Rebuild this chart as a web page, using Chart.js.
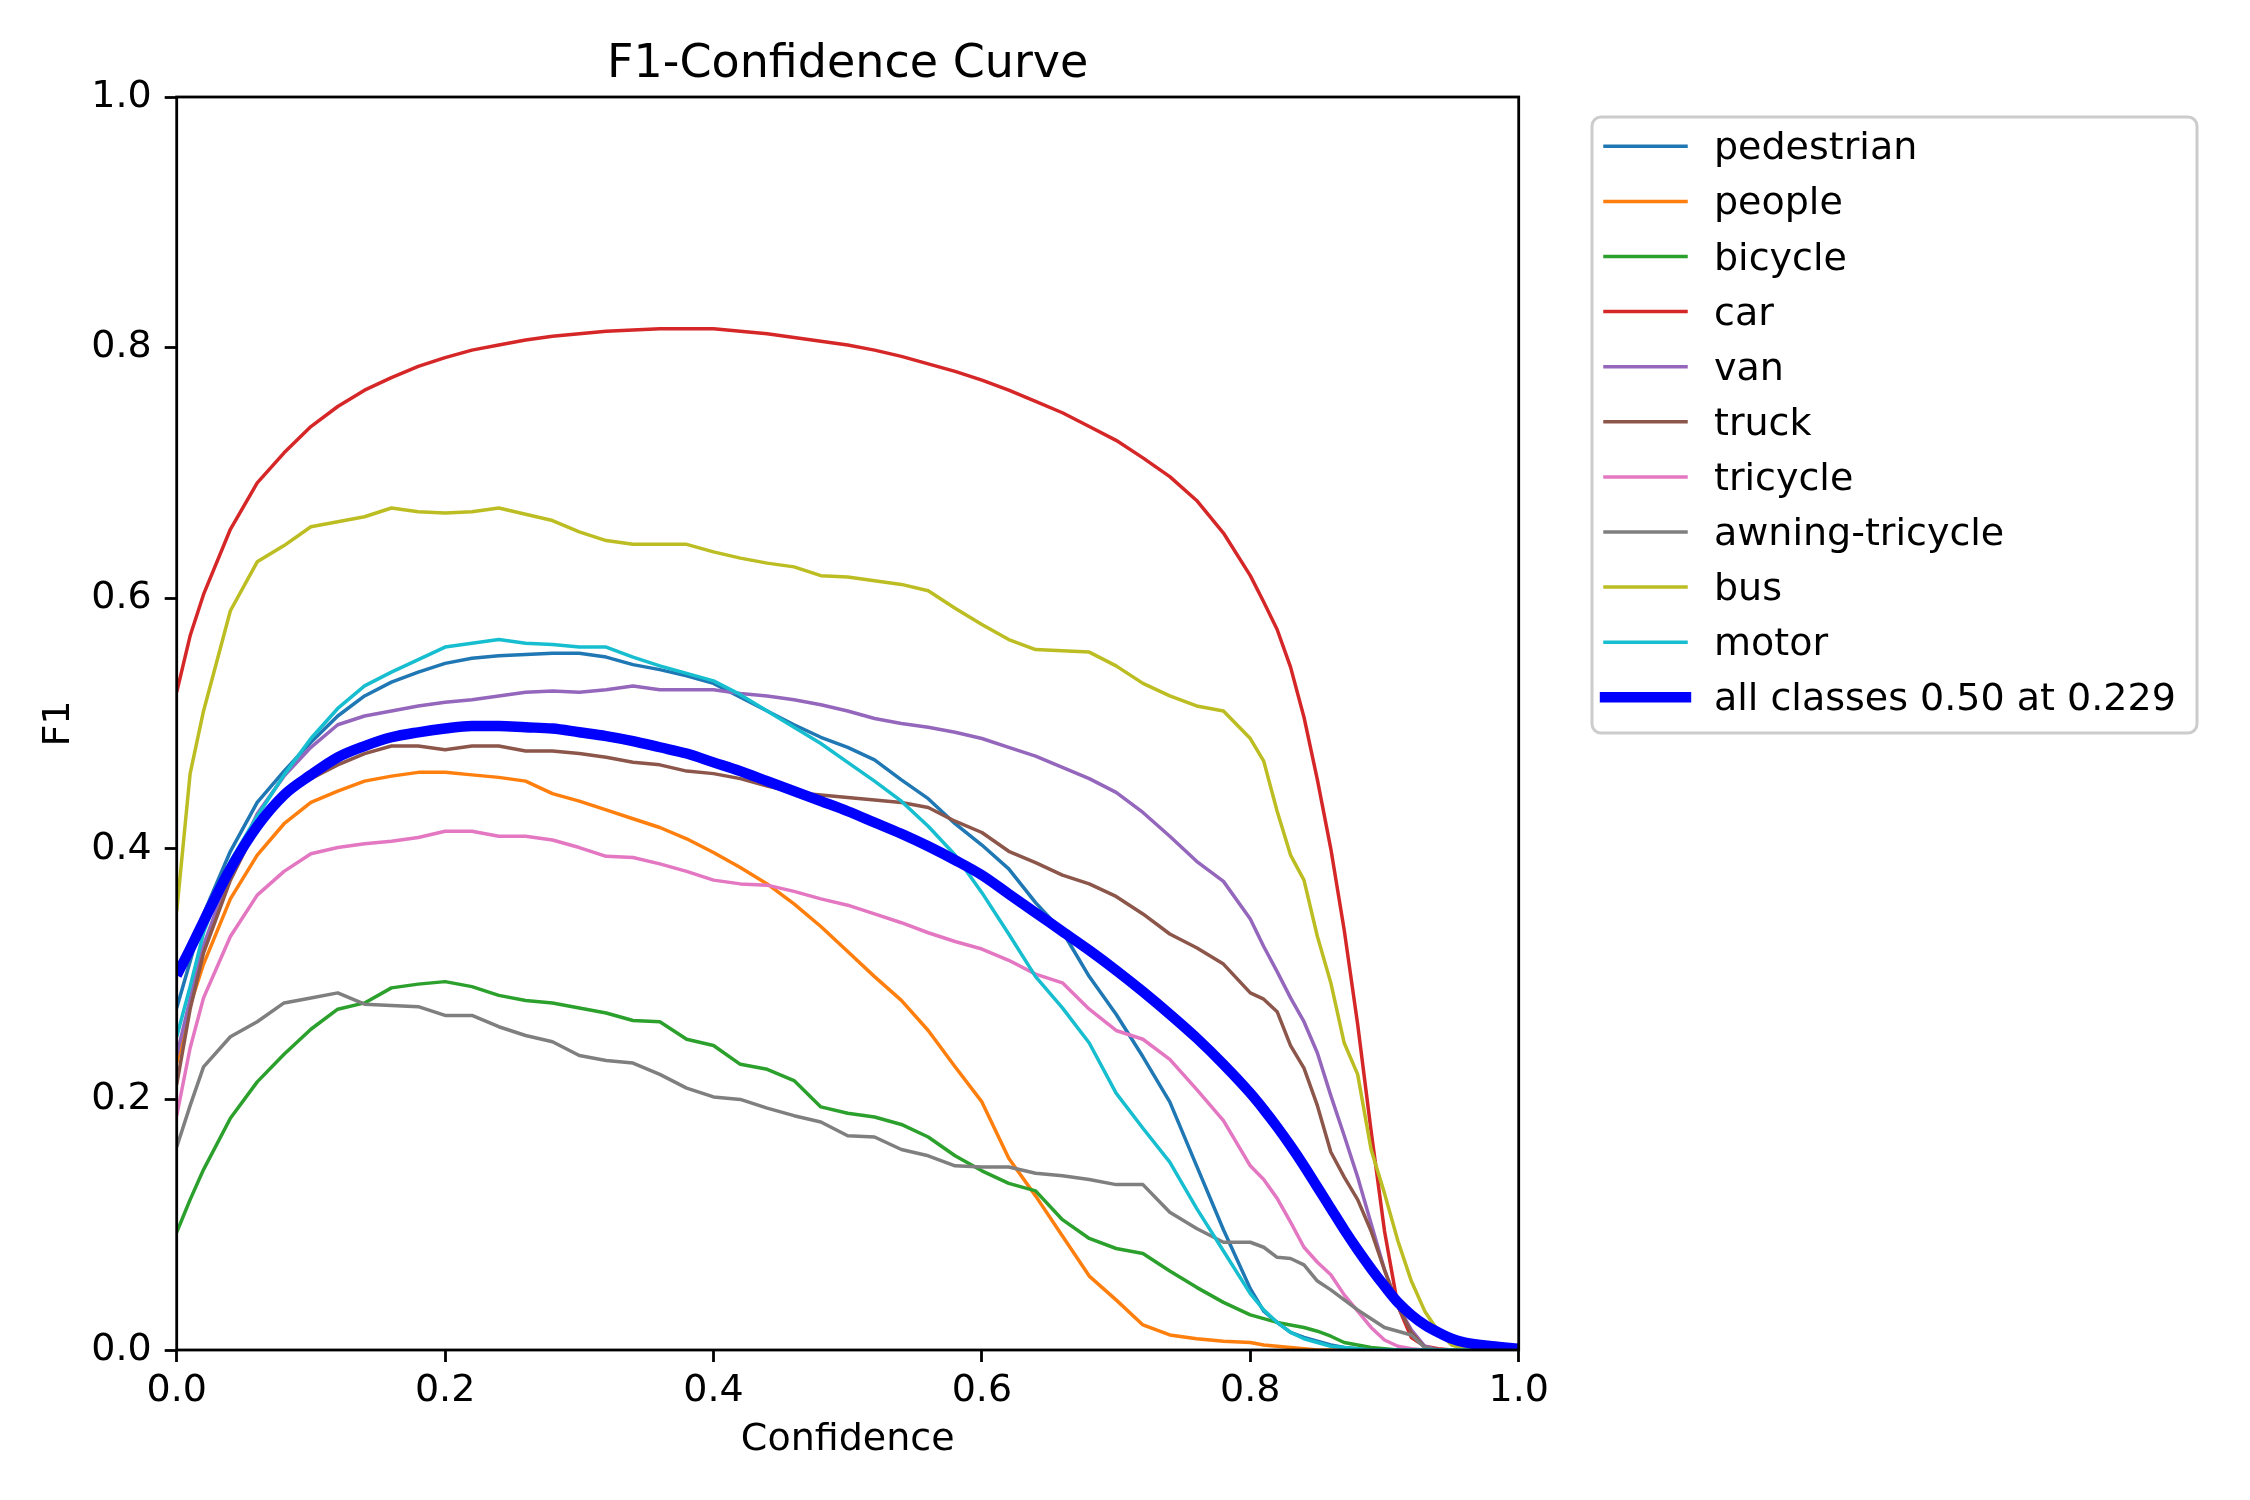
<!DOCTYPE html>
<html>
<head>
<meta charset="utf-8">
<title>F1-Confidence Curve</title>
<script src="https://cdn.jsdelivr.net/npm/chart.js@4.4.1/dist/chart.umd.min.js"></script>
<style>
    html, body { margin: 0; padding: 0; background: #fff; }
    #f1-chart { display: block; }
</style>
</head>
<body>
<canvas id="f1-chart" width="2250" height="1500"></canvas>
<script>
// confidence thresholds (x) shared by every curve
const conf = [0, 0.01, 0.02, 0.04, 0.06, 0.08, 0.10, 0.12, 0.14, 0.16, 0.18, 0.20, 0.22, 0.24, 0.26, 0.28, 0.30,
    0.32, 0.34, 0.36, 0.38, 0.40, 0.42, 0.44, 0.46, 0.48, 0.50, 0.52, 0.54, 0.56, 0.58, 0.60, 0.62, 0.64, 0.66,
    0.68, 0.70, 0.72, 0.74, 0.76, 0.78, 0.80, 0.81, 0.82, 0.83, 0.84, 0.85, 0.86, 0.87, 0.88, 0.89, 0.90, 0.91,
    0.92, 0.93, 0.94, 0.95, 0.96, 0.98, 1.00]

const pedestrian = [0.273, 0.31, 0.348, 0.398, 0.437, 0.462, 0.485, 0.506, 0.522, 0.533, 0.541, 0.548, 0.552, 0.554, 0.555, 0.556, 0.556,
    0.553, 0.547, 0.543, 0.538, 0.532, 0.521, 0.51, 0.499, 0.489, 0.481, 0.471, 0.455, 0.44, 0.42, 0.403, 0.384, 0.357, 0.334,
    0.298, 0.268, 0.234, 0.198, 0.147, 0.096, 0.049, 0.031, 0.022, 0.014, 0.01, 0.007, 0.004, 0.002, 0.001, 0,
    0, 0, 0, 0, 0, 0, 0, 0, 0]
const people = [0.229, 0.275, 0.308, 0.36, 0.395, 0.42, 0.437, 0.446, 0.454, 0.458, 0.461, 0.461, 0.459, 0.457, 0.454, 0.444, 0.438,
    0.431, 0.424, 0.417, 0.408, 0.397, 0.385, 0.372, 0.356, 0.338, 0.318, 0.298, 0.279, 0.255, 0.226, 0.198, 0.153, 0.123, 0.091,
    0.059, 0.04, 0.02, 0.012, 0.009, 0.007, 0.006, 0.004, 0.003, 0.002, 0.001, 0, 0, 0, 0, 0,
    0, 0, 0, 0, 0, 0, 0, 0, 0]
const bicycle = [0.094, 0.12, 0.144, 0.185, 0.214, 0.236, 0.256, 0.272, 0.277, 0.289, 0.292, 0.294, 0.29, 0.283, 0.279, 0.277, 0.273,
    0.269, 0.263, 0.262, 0.248, 0.243, 0.228, 0.224, 0.215, 0.194, 0.189, 0.186, 0.18, 0.17, 0.155, 0.143, 0.133, 0.127, 0.104,
    0.089, 0.081, 0.077, 0.063, 0.05, 0.038, 0.028, 0.025, 0.022, 0.02, 0.018, 0.015, 0.011, 0.006, 0.004, 0.002,
    0.001, 0, 0, 0, 0, 0, 0, 0, 0]
const car = [0.525, 0.57, 0.603, 0.655, 0.692, 0.716, 0.737, 0.753, 0.766, 0.776, 0.785, 0.792, 0.798, 0.802, 0.806, 0.809, 0.811,
    0.813, 0.814, 0.815, 0.815, 0.815, 0.813, 0.811, 0.808, 0.805, 0.802, 0.798, 0.793, 0.787, 0.781, 0.774, 0.766, 0.757, 0.748,
    0.737, 0.726, 0.712, 0.697, 0.678, 0.652, 0.618, 0.597, 0.575, 0.545, 0.505, 0.455, 0.40, 0.335, 0.26, 0.175,
    0.095, 0.035, 0.01, 0.003, 0.001, 0, 0, 0, 0]
const van = [0.235, 0.28, 0.323, 0.382, 0.428, 0.458, 0.481, 0.499, 0.506, 0.51, 0.514, 0.517, 0.519, 0.522, 0.525, 0.526, 0.525,
    0.527, 0.53, 0.527, 0.527, 0.527, 0.524, 0.522, 0.519, 0.515, 0.51, 0.504, 0.5, 0.497, 0.493, 0.488, 0.481, 0.474, 0.465,
    0.456, 0.445, 0.429, 0.41, 0.39, 0.374, 0.344, 0.322, 0.302, 0.281, 0.262, 0.237, 0.203, 0.171, 0.138, 0.101,
    0.064, 0.035, 0.016, 0.003, 0, 0, 0, 0, 0]
const truck = [0.212, 0.272, 0.317, 0.375, 0.418, 0.443, 0.456, 0.467, 0.476, 0.482, 0.482, 0.479, 0.482, 0.482, 0.478, 0.478, 0.476,
    0.473, 0.469, 0.467, 0.462, 0.46, 0.456, 0.45, 0.445, 0.443, 0.441, 0.439, 0.437, 0.433, 0.422, 0.413, 0.398, 0.389, 0.379,
    0.372, 0.362, 0.348, 0.332, 0.321, 0.308, 0.285, 0.28, 0.27, 0.243, 0.225, 0.195, 0.158, 0.138, 0.12, 0.095,
    0.064, 0.035, 0.014, 0.002, 0, 0, 0, 0, 0]
const tricycle = [0.187, 0.241, 0.281, 0.33, 0.363, 0.382, 0.396, 0.401, 0.404, 0.406, 0.409, 0.414, 0.414, 0.41, 0.41, 0.407, 0.401,
    0.394, 0.393, 0.388, 0.382, 0.375, 0.372, 0.371, 0.366, 0.36, 0.355, 0.348, 0.341, 0.333, 0.326, 0.32, 0.311, 0.3, 0.293,
    0.272, 0.255, 0.248, 0.232, 0.208, 0.183, 0.147, 0.136, 0.121, 0.102, 0.082, 0.07, 0.06, 0.044, 0.031, 0.018,
    0.008, 0.003, 0.001, 0, 0, 0, 0, 0, 0]
const awningTricycle = [0.162, 0.195, 0.226, 0.25, 0.262, 0.277, 0.281, 0.285, 0.276, 0.275, 0.274, 0.267, 0.267, 0.258, 0.251, 0.246, 0.235,
    0.231, 0.229, 0.22, 0.209, 0.202, 0.2, 0.193, 0.187, 0.182, 0.171, 0.17, 0.16, 0.155, 0.147, 0.146, 0.146, 0.141, 0.139,
    0.136, 0.132, 0.132, 0.11, 0.097, 0.086, 0.086, 0.082, 0.074, 0.073, 0.068, 0.055, 0.048, 0.04, 0.032, 0.025,
    0.018, 0.015, 0.012, 0.002, 0, 0, 0, 0, 0]
const bus = [0.35, 0.46, 0.51, 0.59, 0.629, 0.642, 0.657, 0.661, 0.665, 0.672, 0.669, 0.668, 0.669, 0.672, 0.667, 0.662, 0.653,
    0.646, 0.643, 0.643, 0.643, 0.637, 0.632, 0.628, 0.625, 0.618, 0.617, 0.614, 0.611, 0.606, 0.592, 0.579, 0.567, 0.559, 0.558,
    0.557, 0.546, 0.532, 0.522, 0.514, 0.51, 0.488, 0.47, 0.43, 0.395, 0.375, 0.33, 0.293, 0.245, 0.22, 0.16,
    0.125, 0.087, 0.055, 0.031, 0.015, 0.004, 0.001, 0, 0]
const motor = [0.25, 0.29, 0.333, 0.39, 0.426, 0.459, 0.488, 0.512, 0.53, 0.541, 0.551, 0.561, 0.564, 0.567, 0.564, 0.563, 0.561,
    0.561, 0.553, 0.546, 0.54, 0.534, 0.523, 0.51, 0.497, 0.484, 0.469, 0.454, 0.438, 0.418, 0.395, 0.365, 0.332, 0.298, 0.273,
    0.245, 0.205, 0.177, 0.15, 0.113, 0.079, 0.045, 0.032, 0.022, 0.014, 0.009, 0.006, 0.003, 0.002, 0.001, 0,
    0, 0, 0, 0, 0, 0, 0, 0, 0]
const allClasses = [0.299, 0.32, 0.342, 0.384, 0.418, 0.443, 0.459, 0.473, 0.482, 0.489, 0.493, 0.496, 0.498, 0.498, 0.497, 0.496, 0.493,
    0.49, 0.486, 0.481, 0.476, 0.469, 0.462, 0.454, 0.446, 0.438, 0.43, 0.421, 0.412, 0.402, 0.391, 0.379, 0.364, 0.349, 0.334,
    0.319, 0.303, 0.286, 0.268, 0.249, 0.228, 0.205, 0.192, 0.178, 0.163, 0.147, 0.13, 0.113, 0.096, 0.08, 0.065,
    0.051, 0.038, 0.028, 0.02, 0.014, 0.009, 0.006, 0.003, 0.001]

const classNames = ['pedestrian', 'people', 'bicycle', 'car', 'van', 'truck', 'tricycle', 'awning-tricycle', 'bus', 'motor']
const classValues = [pedestrian, people, bicycle, car, van, truck, tricycle, awningTricycle, bus, motor]
const classColors = ['#1f77b4', '#ff7f0e', '#2ca02c', '#d62728', '#9467bd', '#8c564b', '#e377c2', '#7f7f7f', '#bcbd22', '#17becf']
const allLabel = 'all classes 0.50 at 0.229'
const tickValues = [0, 0.2, 0.4, 0.6, 0.8, 1.0]

const FONT = 'DejaVu Sans'
const TEXT_SIZE = 38
Chart.defaults.font.family = FONT
Chart.defaults.color = '#000'

function toPoints(values) {
    return values.map((v, i) => ({ x: conf[i], y: v }))
}

var datasets = classValues.map((values, i) => ({
    label: classNames[i],
    data: toPoints(values),
    borderColor: classColors[i],
    borderWidth: 3.5,
    order: classValues.length - i,
}))
datasets.push({
    label: allLabel,
    data: toPoints(allClasses),
    borderColor: '#0000ff',
    borderWidth: 10.4,
    cubicInterpolationMode: 'monotone',
    order: 0,
})
datasets.forEach(ds => {
    ds.pointRadius = 0
    ds.fill = false
    ds.clip = 0
    ds.borderJoinStyle = 'round'
})

// axes box, title and the boxed legend on the right
const decorations = {
    id: 'decorations',
    afterDraw(chart) {
        const { ctx, chartArea } = chart
        ctx.save()
        ctx.strokeStyle = '#000'
        ctx.lineWidth = 2.8
        ctx.strokeRect(chartArea.left, chartArea.top, chartArea.right - chartArea.left, chartArea.bottom - chartArea.top)

        ctx.fillStyle = '#000'
        ctx.font = `46px "${FONT}"`
        ctx.textAlign = 'center'
        ctx.textBaseline = 'alphabetic'
        ctx.fillText('F1-Confidence Curve', (chartArea.left + chartArea.right) / 2, 77)

        ctx.beginPath()
        ctx.roundRect(1592, 117, 605, 616, 9)
        ctx.fillStyle = 'rgba(255,255,255,0.8)'
        ctx.fill()
        ctx.strokeStyle = '#cccccc'
        ctx.lineWidth = 3
        ctx.stroke()

        ctx.font = `${TEXT_SIZE}px "${FONT}"`
        ctx.textAlign = 'left'
        chart.data.datasets.forEach((ds, i) => {
            const y = 146.3 + i * 55.1
            ctx.beginPath()
            ctx.moveTo(1605, y)
            ctx.lineTo(1686, y)
            ctx.strokeStyle = ds.borderColor
            ctx.lineWidth = ds.borderWidth
            ctx.lineCap = 'square'
            ctx.stroke()
            ctx.fillStyle = '#000'
            ctx.fillText(ds.label, 1714, y + 13)
        })
        ctx.restore()
    }
}

function axisOptions(titleText, titlePadding, afterFit) {
    return {
        type: 'linear',
        min: 0,
        max: 1,
        afterBuildTicks: (axis) => { axis.ticks = tickValues.map(v => ({ value: v })) },
        afterFit: afterFit,
        border: { display: false },
        grid: {
            drawOnChartArea: false,
            drawTicks: true,
            tickLength: 12,
            tickWidth: 2.8,
            tickColor: '#000',
        },
        ticks: {
            font: { size: TEXT_SIZE },
            color: '#000',
            callback: (value) => value.toFixed(1),
        },
        title: {
            display: true,
            text: titleText,
            font: { size: TEXT_SIZE },
            color: '#000',
            padding: titlePadding,
        },
    }
}

var options = {
    responsive: false,
    animation: false,
    devicePixelRatio: 1,
    layout: { padding: { left: 0, right: 731.3, top: 97, bottom: 0 } },
    plugins: {
        legend: { display: false },
        title: { display: false },
        tooltip: { enabled: false },
    },
    scales: {
        x: axisOptions('Confidence', { top: 0, bottom: 37 }, (scale) => { scale.height = 150 }),
        y: axisOptions('F1', { top: 36, bottom: 0 }, (scale) => { scale.width = 176.7 }),
    },
}
options.scales.x.ticks.padding = 6
options.scales.y.ticks.padding = 13

const MyChart = new Chart(document.getElementById('f1-chart'), {
    type: 'line',
    data: { datasets: datasets },
    options: options,
    plugins: [decorations],
})
</script>
</body>
</html>
